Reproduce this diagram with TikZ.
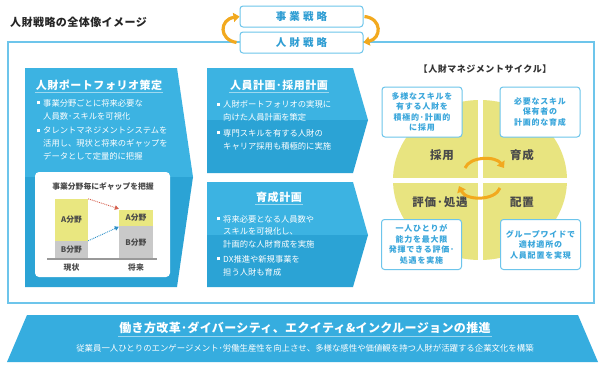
\documentclass[tikz,border=0pt]{standalone}
\usepackage{fontspec}
\setmainfont{Noto Sans CJK JP}
\usetikzlibrary{arrows.meta}
\definecolor{frameblue}{HTML}{6DC5EB}
\definecolor{panelup}{HTML}{3CB3E2}
\definecolor{paneldown}{HTML}{2BA3D5}
\definecolor{bannerblue}{HTML}{36ADDF}
\definecolor{stratblue}{HTML}{2E9DD3}
\definecolor{loopor}{HTML}{F2A91E}
\definecolor{cycleyellow}{HTML}{E8E480}
\definecolor{barA}{HTML}{E9E780}
\definecolor{barB}{HTML}{C9C9C9}
\definecolor{darktext}{HTML}{4A4A4A}
\definecolor{boxtext}{HTML}{39A6DB}
\definecolor{gapred}{HTML}{D5604E}
\definecolor{gapblue}{HTML}{2A8FC8}
\newcommand{\sqmark}{\makebox[6pt][l]{\raisebox{1.6pt}{\rule{3pt}{3pt}}}}
\newcommand{\hangmark}{\hspace*{6pt}}
\tikzset{
  bullets/.style={anchor=north west, inner sep=0pt, align=left, text=white,
                  font=\fontsize{8.3}{13}\selectfont},
  paneltitle/.style={inner sep=1pt, text=white,
                     font=\bfseries\fontsize{11}{13}\selectfont\addfontfeature{LetterSpace=5}},
  titlerule/.style={draw=white, draw opacity=0.5, line width=1pt},
  stratbox/.style={draw=frameblue, line width=1pt, fill=white, rounded corners=3pt,
                   minimum width=123pt, minimum height=21pt, inner sep=0pt, text=stratblue,
                   font=\bfseries\fontsize{10.5}{12}\selectfont\addfontfeature{LetterSpace=30}},
  looparrow/.style={draw=loopor, line width=3.2pt, -{Triangle[length=6pt,width=9pt]}},
  cyclebox/.style={draw=frameblue, line width=1pt, fill=white, rounded corners=3pt,
                   minimum width=80pt, minimum height=50pt, inner sep=0pt, align=center,
                   text=boxtext, font=\bfseries\fontsize{8}{10.5}\selectfont\addfontfeature{LetterSpace=10}},
  quadlabel/.style={text=darktext, font=\bfseries\fontsize{11.5}{12}\selectfont\addfontfeature{LetterSpace=8}},
  bar/.style={inner sep=0pt, text=darktext, font=\bfseries\fontsize{7.8}{8}\selectfont},
  chartlabel/.style={inner sep=0pt, text=darktext, font=\bfseries\fontsize{7.8}{8}\selectfont},
  gaparrow/.style={densely dotted, line width=0.9pt, -{Triangle[length=4pt,width=4.5pt]}},
}
\begin{document}
\begin{tikzpicture}[x=1pt, y=-1pt]
  \useasboundingbox[fill=white] (0,0) rectangle (605,367);
  % title and frame
  \node[anchor=west, inner sep=0pt, text=black!85,
        font=\bfseries\fontsize{11}{12}\selectfont\addfontfeature{LetterSpace=4}] (maintitle) at (10,22) {人財戦略の全体像イメージ};
  \draw[frameblue, line width=1.3pt] (8,42) rectangle (594,303);
  % strategy boxes
  \node[stratbox] (biz) at (301.5,16.5) {事業戦略};
  \node[stratbox] (hr) at (301.5,42.5) {人財戦略};
  \draw[looparrow] ([xshift=-3pt]hr.west) .. controls +(-18,-3) and +(-20,3) .. (biz.west);
  \draw[looparrow] ([xshift=1pt]biz.east) .. controls +(18,2) and +(18,-4) .. (hr.east);

  % left panel
  \fill[panelup] (25,68) -- (177,68) -- (193,177) -- (25,177) -- cycle;
  \fill[paneldown] (25,177) -- (193,177) -- (177,287) -- (25,287) -- cycle;
  \node[paneltitle] (pftitle) at (99,85) {人財ポートフォリオ策定};
  \draw[titlerule] ([yshift=-1pt]pftitle.south west) -- ([yshift=-1pt]pftitle.south east);
  \node[bullets] (pf1) at (37,98.9) {\sqmark 事業分野ごとに将来必要な\\\hangmark 人員数･スキルを可視化};
  \node[bullets] (pf2) at (37,126.9) {\sqmark タレントマネジメントシステムを\\\hangmark 活用し、現状と将来のギャップを\\\hangmark データとして定量的に把握};
  % gap chart
  \fill[white, rounded corners=4pt] (35,172) rectangle (170,277);
  \node[chartlabel] (charttitle) at (103,187) {事業分野毎にギャップを把握};
  \node[bar, fill=barA, minimum width=33pt, minimum height=42pt] (nowA) at (71.5,220) {A分野};
  \node[bar, fill=barB, minimum width=33pt, minimum height=18pt] (nowB) at (71.5,250) {B分野};
  \node[bar, fill=barA, minimum width=34pt, minimum height=16pt] (futA) at (136,218) {A分野};
  \node[bar, fill=barB, minimum width=34pt, minimum height=33pt] (futB) at (136,242.5) {B分野};
  \draw[gray!80, line width=1.3pt] (47,259) -- (157,259);
  \node[chartlabel] (now) at (71.5,268) {現状};
  \node[chartlabel] (fut) at (136,268) {将来};
  \draw[gaparrow, gapred] (nowA.north east) -- ([yshift=1pt]futA.north west);
  \draw[gaparrow, gapblue] (nowB.north east) -- ([yshift=-1pt]futB.north west);

  % middle panels
  \fill[panelup] (207,68) -- (353,68) -- (368,120) -- (207,120) -- cycle;
  \fill[paneldown] (207,120) -- (368,120) -- (353,173) -- (207,173) -- cycle;
  \node[paneltitle] (plantitle) at (279,85) {人員計画･採用計画};
  \draw[titlerule] ([yshift=-1pt]plantitle.south west) -- ([yshift=-1pt]plantitle.south east);
  \node[bullets] (plan1) at (217,99.9) {\sqmark 人財ポートフォリオの実現に\\\hangmark 向けた人員計画を策定};
  \node[bullets] (plan2) at (217,128.9) {\sqmark 専門スキルを有する人財の\\\hangmark キャリア採用も積極的に実施};

  \fill[panelup] (207,182) -- (353,182) -- (368,235) -- (207,235) -- cycle;
  \fill[paneldown] (207,235) -- (368,235) -- (353,287) -- (207,287) -- cycle;
  \node[paneltitle] (devtitle) at (279,197) {育成計画};
  \draw[titlerule] ([yshift=-1pt]devtitle.south west) -- ([yshift=-1pt]devtitle.south east);
  \node[bullets, font=\fontsize{8.3}{12.5}\selectfont] (dev1) at (217,214.9) {\sqmark 将来必要となる人員数や\\\hangmark スキルを可視化し、\\\hangmark 計画的な人財育成を実施};
  \node[bullets] (dev2) at (217,254.9) {\sqmark DX推進や新規事業を\\\hangmark 担う人財も育成};

  % management cycle
  \node[text=black!80, font=\bfseries\fontsize{9}{10}\selectfont\addfontfeature{LetterSpace=6}] (cycletitle) at (485,69) {【人財マネジメントサイクル】};
  \fill[cycleyellow] (480,180) ellipse [x radius=87pt, y radius=80pt];
  \draw[white, line width=5pt] (480,95) -- (480,265);
  \draw[white, line width=5pt] (388,180) -- (572,180);
  \node[quadlabel] (hire) at (442,155) {採用};
  \node[quadlabel] (grow) at (522,155) {育成};
  \node[quadlabel] (rate) at (440,202) {評価･処遇};
  \node[quadlabel] (place) at (522,202) {配置};
  \coordinate (c1s) at (465,168);
  \coordinate (c1e) at (504,168);
  \coordinate (c2s) at (500,188);
  \coordinate (c2e) at (459,186);
  \draw[looparrow, line width=3pt] (c1s) .. controls (470,156) and (496,156) .. (c1e);
  \draw[looparrow, line width=3pt] (c2s) .. controls (495,201) and (466,201) .. (c2e);
  \node[cyclebox] (hirebox) at (422,112) {多様なスキルを\\有する人財を\\積極的･計画的\\に採用};
  \node[cyclebox] (growbox) at (540,112) {必要なスキル\\保有者の\\計画的な育成};
  \node[cyclebox] (ratebox) at (421.5,244.5) {一人ひとりが\\能力を最大限\\発揮できる評価･\\処遇を実施};
  \node[cyclebox] (placebox) at (540.5,244.5) {グループワイドで\\適材適所の\\人員配置を実現};

  % bottom banner
  \fill[bannerblue] (27,315) -- (578,315) -- (598,362) -- (7,362) -- cycle;
  \node[paneltitle, font=\bfseries\fontsize{12}{13}\selectfont\addfontfeature{LetterSpace=3}] (dei) at (305,328) {働き方改革･ダイバーシティ、エクイティ\&インクルージョンの推進};
  \draw[titlerule] ([yshift=-1pt]dei.south west) -- ([yshift=-1pt]dei.south east);
  \node[text=white, inner sep=0pt, font=\fontsize{8.4}{9}\selectfont] (culture) at (305,348) {従業員一人ひとりのエンゲージメント･労働生産性を向上させ、多様な感性や価値観を持つ人財が活躍する企業文化を構築};
\end{tikzpicture}
\end{document}
